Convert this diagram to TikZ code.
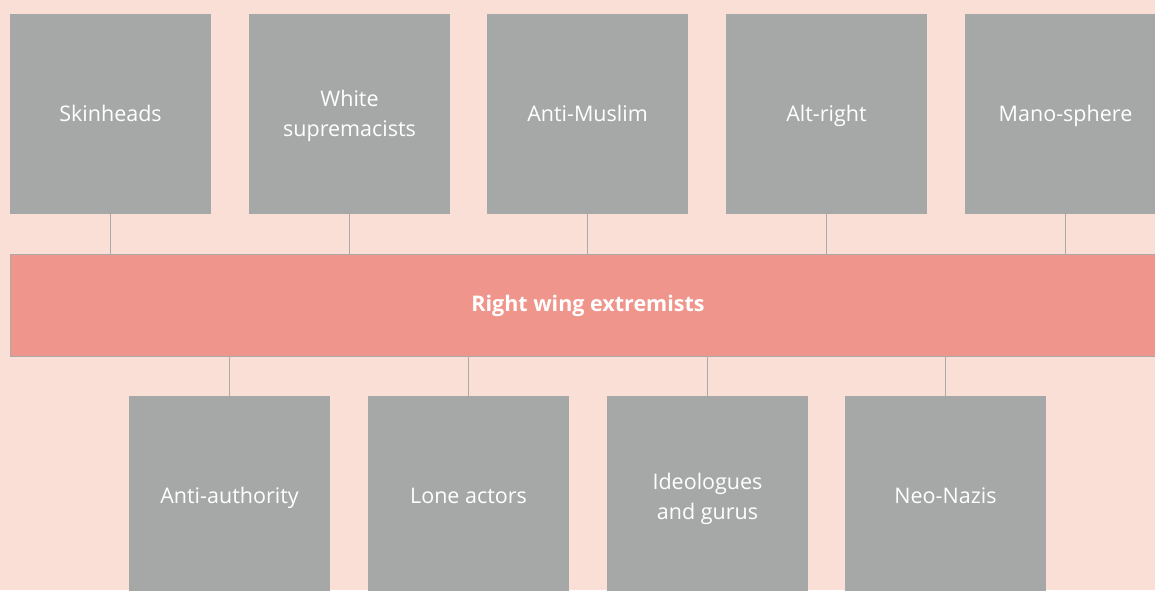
\documentclass[tikz,border=0pt]{standalone}
\usepackage{fontspec}
\setmainfont{Open Sans}
\definecolor{bgpink}{HTML}{FADFD7}
\definecolor{boxgrey}{HTML}{A6A8A7}
\definecolor{barred}{HTML}{EF958B}
\definecolor{linegrey}{HTML}{AAAAAA}
\begin{document}
\begin{tikzpicture}[x=1pt,y=-1pt,
  cat/.style={fill=boxgrey,draw=none,minimum width=201pt,minimum height=200pt,inner sep=0pt,anchor=north west},
  lbl/.style={text=white,align=center,font=\fontsize{21.5}{30}\selectfont,inner sep=0pt},
  link/.style={draw=linegrey,line width=1.2pt}]
\fill[bgpink] (0,0) rectangle (1155,590);
\useasboundingbox (0,0) rectangle (1155,590);
\begin{scope}
\clip (0,0) rectangle (1155,590);
\node[cat] (t1) at (10,14) {};
\node[cat] (t2) at (249,14) {};
\node[cat] (t3) at (487,14) {};
\node[cat] (t4) at (726,14) {};
\node[cat] (t5) at (965,14) {};
\node[lbl] (lt1) at (110.5,115) {\strut Skinheads};
\node[lbl] (lt2) at (349.5,115) {\strut White\\\strut supremacists};
\node[lbl] (lt3) at (587.5,115) {\strut Anti-Muslim};
\node[lbl] (lt4) at (826.5,115) {\strut Alt-right};
\node[lbl] (lt5) at (1065.5,115) {\strut Mano-sphere};
\node[draw=linegrey,line width=1.2pt,fill=barred,minimum width=1160pt,minimum height=102pt,inner sep=0pt,anchor=north west] (bar) at (10,253.5) {};
\node[text=white,inner sep=0pt,font=\fontsize{21.5}{26}\selectfont\bfseries] (bartext) at (588,306) {\strut Right wing extremists};
\node[cat] (b1) at (129,396) {};
\node[cat] (b2) at (368,396) {};
\node[cat] (b3) at (607,396) {};
\node[cat] (b4) at (845,396) {};
\node[lbl] (l1) at (229.5,497) {\strut Anti-authority};
\node[lbl] (l2) at (468.5,497) {\strut Lone actors};
\node[lbl] (l3) at (707.5,498) {\strut Ideologues\\\strut and gurus};
\node[lbl] (l4) at (945.5,497) {\strut Neo-Nazis};
\foreach \n in {1,...,5} \draw[link] (t\n.south) -- (t\n.south |- bar.north);
\foreach \n in {1,...,4} \draw[link] (b\n.north) -- (b\n.north |- bar.south);
\end{scope}
\end{tikzpicture}
\end{document}
